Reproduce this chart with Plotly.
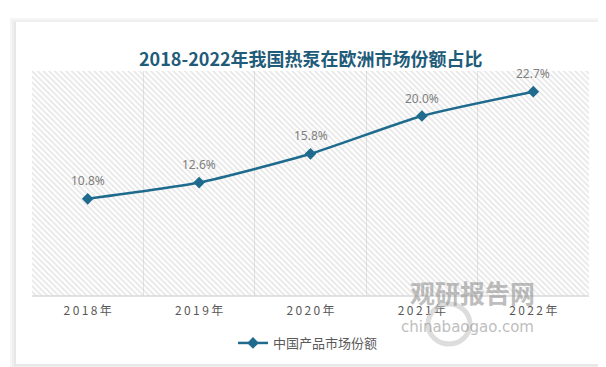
import plotly.graph_objects as go

years = ["2018年", "2019年", "2020年", "2021年", "2022年"]
share = [10.8, 12.6, 15.8, 20.0, 22.7]
series_name = "中国产品市场份额"
title_text = "2018-2022年我国热泵在欧洲市场份额占比"

W, H = 606, 367
L, R, T, B = 24, 25, 63, 79
pw, ph = W - L - R, H - T - B


def px_x(p):
    return (p - L) / pw


def px_y(p):
    return (H - B - p) / ph


fig = go.Figure()

# hatched plot background on the base axes (drawn beneath the overlay)
fig.add_trace(go.Scatter(
    x=[0, 1, 1, 0, 0], y=[0, 0, 1, 1, 0], xaxis="x", yaxis="y",
    mode="none", fill="toself", fillcolor="rgba(0,0,0,0)",
    fillpattern=dict(shape="\\", fgcolor="#cccccc", bgcolor="rgba(0,0,0,0)",
                     size=4, solidity=0.4),
    hoverinfo="skip", showlegend=False,
))

line_color = "#1F6B8E"
fig.add_trace(go.Scatter(
    x=years, y=share, name=series_name, mode="lines+markers",
    xaxis="x2", yaxis="y2",
    line=dict(color=line_color, width=2.5, shape="spline", smoothing=0.6),
    marker=dict(symbol="diamond", size=9, color=line_color),
))

for xv, yv in zip(years, share):
    fig.add_annotation(x=xv, y=yv, xref="x2", yref="y2", text=f"{yv:.1f}%",
                       showarrow=False, yshift=18,
                       font=dict(size=12, color="#7f7f7f", family="Noto Sans, DejaVu Sans"))

shapes = []
for pad, col in [(6, "#f5f5f5"), (4, "#efefef"), (2, "#e7e7e7")]:
    shapes.append(dict(type="rect", xref="paper", yref="paper", layer="below",
                       x0=px_x(8 - pad), x1=px_x(597 + pad),
                       y0=px_y(14 - pad + 2), y1=px_y(356 + pad),
                       line=dict(width=0), fillcolor=col))
shapes.append(dict(type="rect", xref="paper", yref="paper", layer="below",
                   x0=px_x(8), x1=px_x(597), y0=px_y(14), y1=px_y(356),
                   line=dict(width=0), fillcolor="white"))
shapes.append(dict(type="line", xref="paper", yref="paper", x0=0, x1=1, y0=0, y1=0,
                   line=dict(color="#d9d9d9", width=1.5)))

fig.add_annotation(xref="paper", yref="paper", x=px_x(303), y=px_y(35),
                   text=f"<b>{title_text}</b>", showarrow=False,
                   font=dict(size=18, color="#1F5C7A", family="Noto Sans CJK SC"))

# watermark
fig.add_annotation(xref="paper", yref="paper", x=px_x(529), y=px_y(304),
                   text="<b>观研报告网</b>", showarrow=False, opacity=0.55,
                   font=dict(size=25, color="#8a8a8a", family="Noto Sans CJK SC"))
fig.add_annotation(xref="paper", yref="paper", x=px_x(528), y=px_y(330),
                   text="chinabaogao.com", showarrow=False, opacity=0.55,
                   font=dict(size=15, color="#8a8a8a", family="DejaVu Sans"))
shapes.append(dict(type="circle", xref="paper", yref="paper",
                   x0=px_x(420), x1=px_x(462), y0=px_y(336), y1=px_y(296),
                   line=dict(color="#c8c8c8", width=5), opacity=0.6))

fig.update_layout(
    width=W, height=H,
    margin=dict(l=L, r=R, t=T, b=B),
    paper_bgcolor="white", plot_bgcolor="white",
    shapes=shapes,
    showlegend=True,
    legend=dict(orientation="h", x=px_x(300), xanchor="center", y=px_y(335), yanchor="middle",
                font=dict(size=13, color="#595959", family="Noto Sans CJK SC"),
                bgcolor="rgba(0,0,0,0)"),
    xaxis=dict(range=[0, 1], visible=False),
    yaxis=dict(range=[0, 1], visible=False),
    xaxis2=dict(overlaying="x", side="bottom", type="category", range=[-0.5, 4.5],
                tickson="boundaries", showgrid=True, gridcolor="#e3e3e3", gridwidth=1,
                showline=False, zeroline=False, ticks="",
                tickvals=years, ticktext=["\u2009".join(y) for y in years],
                tickfont=dict(size=12, color="#595959", family="Noto Sans CJK SC"),
                ticklabelstandoff=6),
    yaxis2=dict(overlaying="y", range=[0, 25], showgrid=False, showticklabels=False,
                zeroline=False, showline=False, ticks=""),
)

fig.write_html("out.html")
